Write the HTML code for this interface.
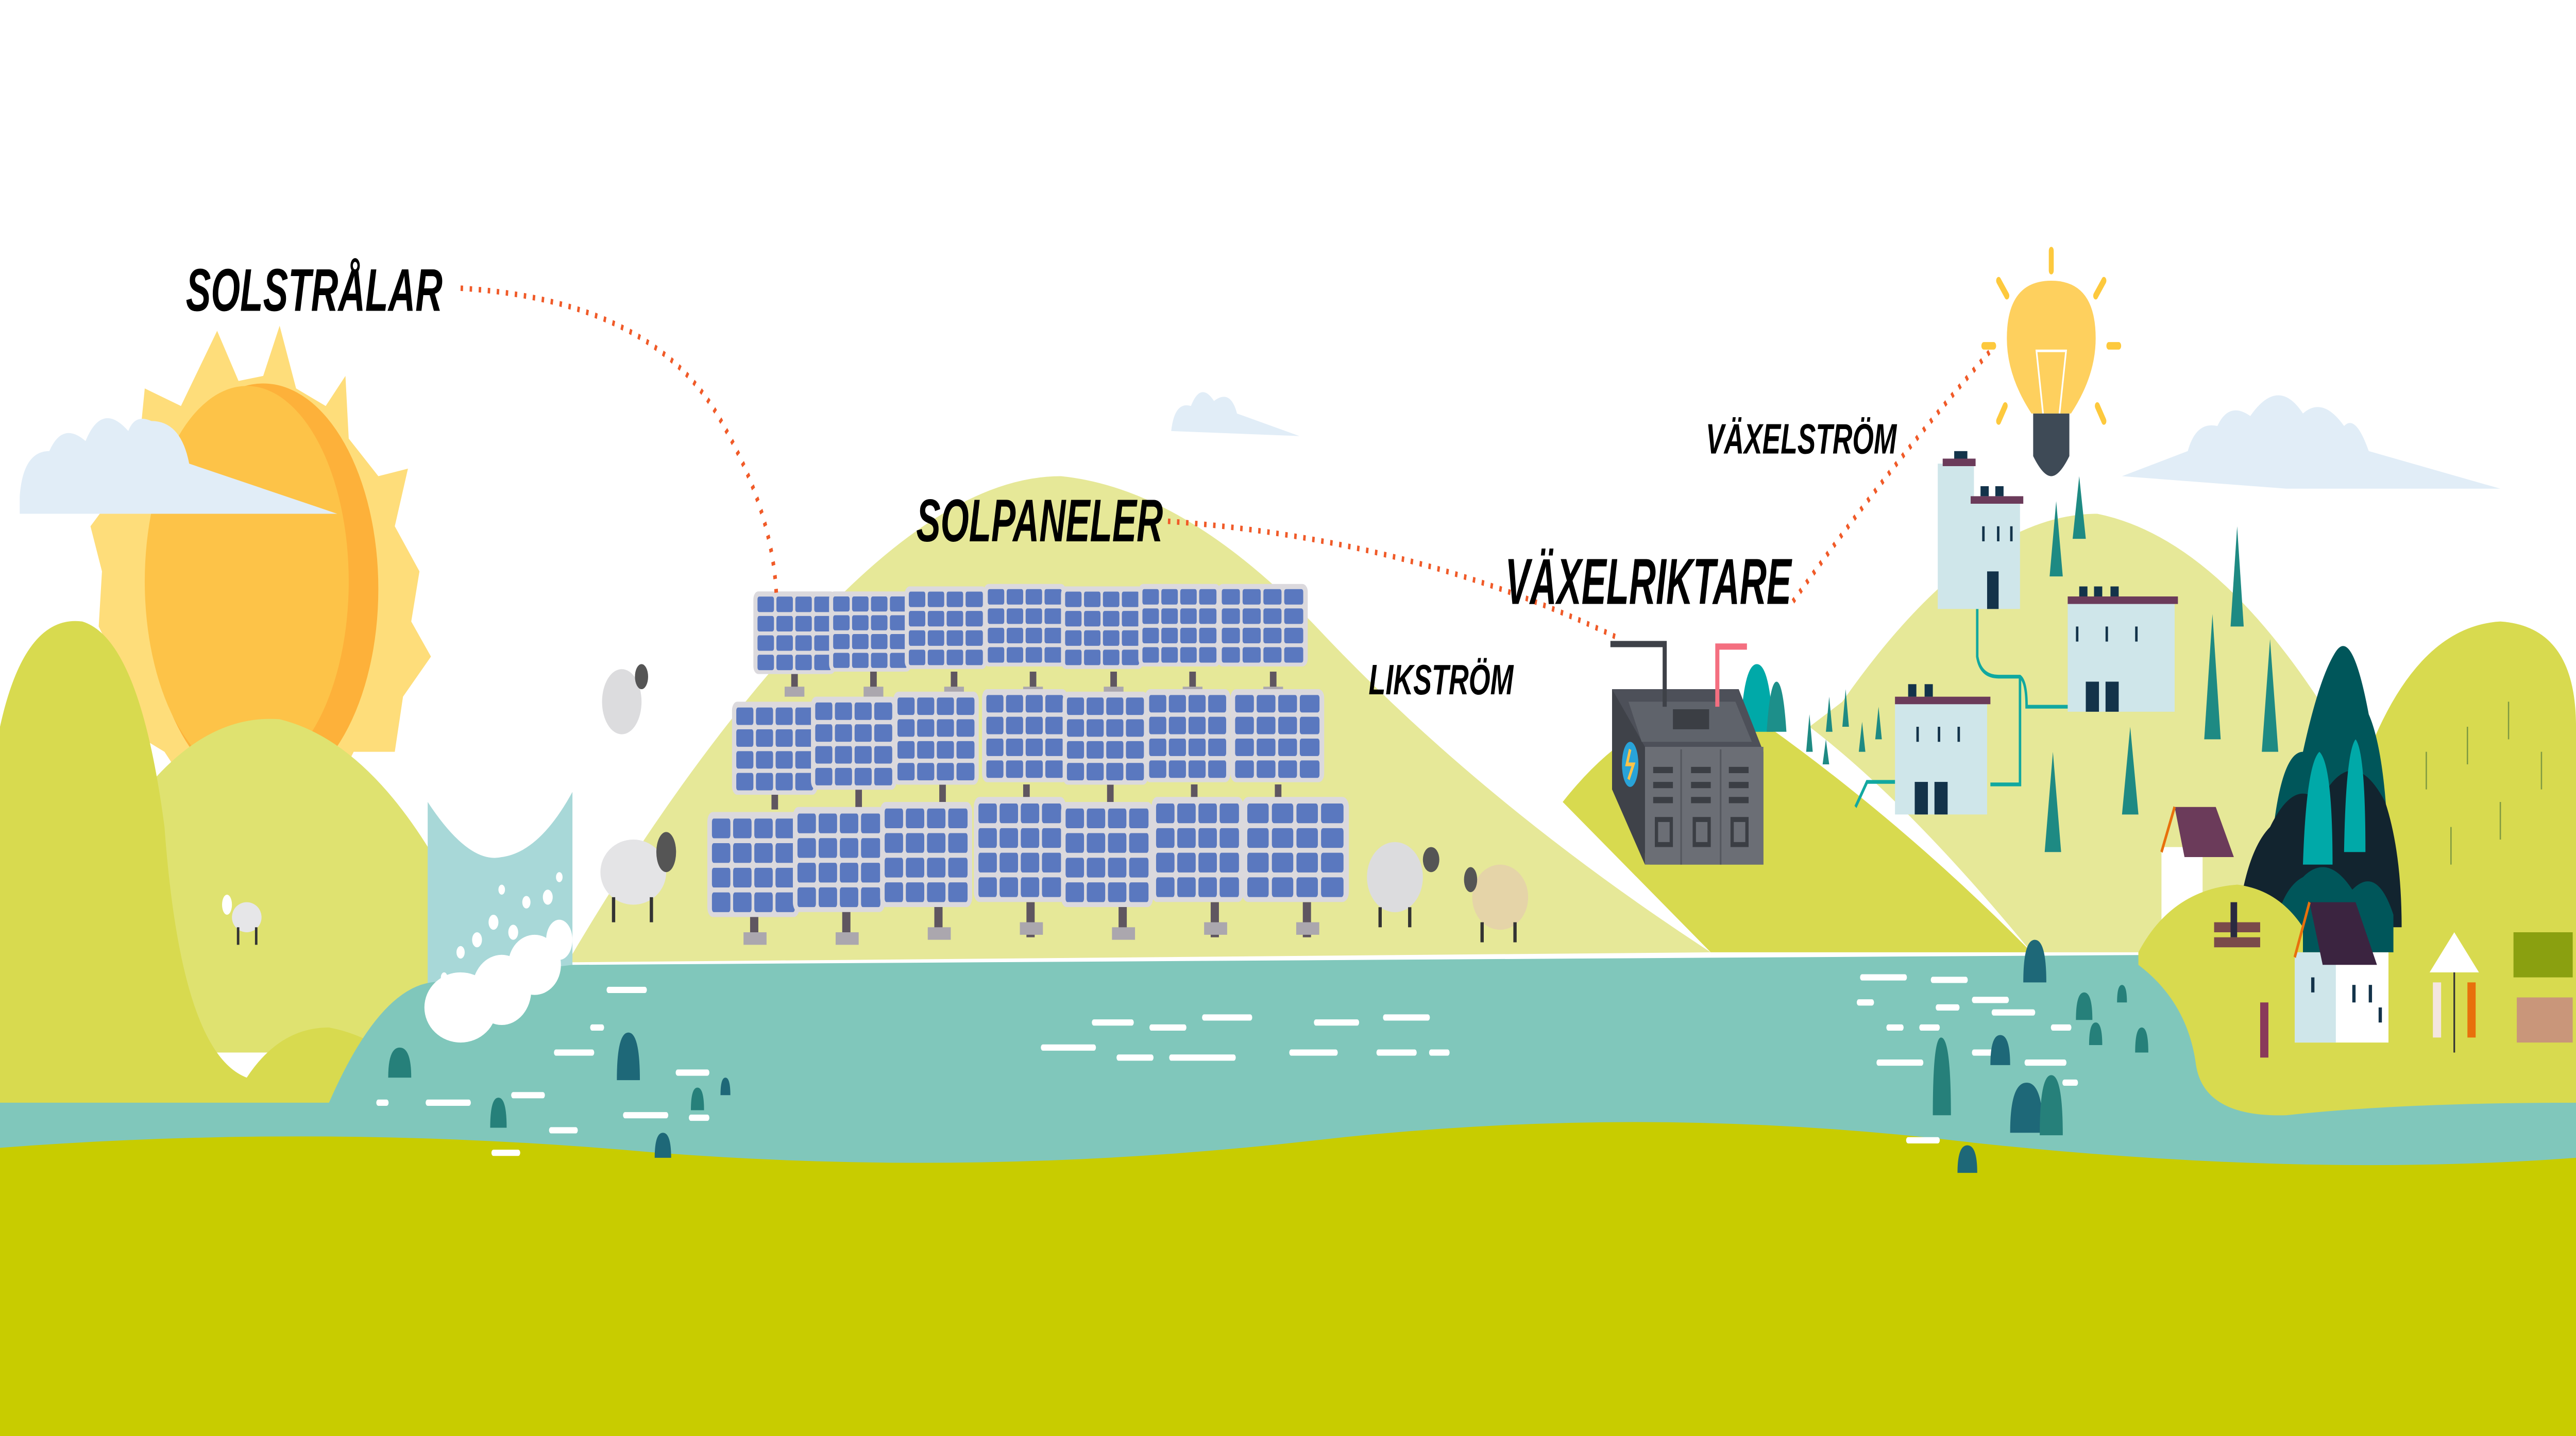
<!DOCTYPE html>
<html><head><meta charset="utf-8"><style>
html,body{margin:0;padding:0;background:#fff;width:100%;height:100%;overflow:hidden;}
svg{display:block;position:fixed;left:0;top:0;width:100vw;height:100vh;}
.t{font-family:"Liberation Sans",sans-serif;font-weight:bold;font-style:italic;fill:#000;}
</style></head><body>
<svg viewBox="0 0 1566 573" preserveAspectRatio="none" xmlns="http://www.w3.org/2000/svg">
<defs>
<g id="pn">
<rect x="0" y="0" width="50" height="32" rx="3" fill="#dbd9dd"/>
<g fill="#5a78bf">
<rect x="2.5" y="2" width="10" height="6" rx="1"/><rect x="14" y="2" width="10" height="6" rx="1"/><rect x="25.5" y="2" width="10" height="6" rx="1"/><rect x="37" y="2" width="10.5" height="6" rx="1"/>
<rect x="2.5" y="9.5" width="10" height="6" rx="1"/><rect x="14" y="9.5" width="10" height="6" rx="1"/><rect x="25.5" y="9.5" width="10" height="6" rx="1"/><rect x="37" y="9.5" width="10.5" height="6" rx="1"/>
<rect x="2.5" y="17" width="10" height="6" rx="1"/><rect x="14" y="17" width="10" height="6" rx="1"/><rect x="25.5" y="17" width="10" height="6" rx="1"/><rect x="37" y="17" width="10.5" height="6" rx="1"/>
<rect x="2.5" y="24.5" width="10" height="6" rx="1"/><rect x="14" y="24.5" width="10" height="6" rx="1"/><rect x="25.5" y="24.5" width="10" height="6" rx="1"/><rect x="37" y="24.5" width="10.5" height="6" rx="1"/>
</g></g>
</defs>
<rect width="1566" height="573" fill="#fff"/>
<path d="M712 172 Q714 160 724 162 Q730 152 738 160 Q748 155 752 165 L790 174 Z" fill="#e1edf7"/>
<path d="M1290 190 L1330 180 Q1335 168 1348 170 Q1355 160 1368 166 Q1385 150 1400 165 Q1412 158 1425 170 Q1432 165 1440 180 L1520 195 L1390 195 Z" fill="#e1edf7"/>
<path d="M132 132 L145 152 L160 150 L170 130 L180 155 L198 162 L210 150 L212 175 L230 190 L248 187 L240 210 L255 228 L250 248 L262 262 L245 278 L240 300 L215 300 L200 320 L120 320 L100 300 L75 290 L75 270 L60 250 L62 228 L55 210 L72 195 L85 175 L88 155 L110 162 Z" fill="#fedd7a"/>
<ellipse cx="160" cy="235" rx="70" ry="82" fill="#fdb13a"/>
<ellipse cx="150" cy="232" rx="62" ry="78" fill="#fdc348"/>
<path d="M12 198 Q14 180 30 180 Q38 168 52 176 Q62 160 78 172 Q82 165 92 168 Q110 168 115 185 L205 205 L12 205 Z" fill="#e1edf7"/>
<path d="M345 384 Q420 300 500 245 Q580 190 645 190 Q720 195 800 250 Q900 320 1040 380 Z" fill="#e6e898"/>
<path d="M1120 280 Q1200 205 1275 205 Q1350 215 1420 290 Q1450 330 1460 380 L1235 380 Q1160 320 1100 290 Z" fill="#e6e898"/>
<path d="M950 320 Q1010 270 1075 290 Q1160 330 1235 380 L1040 380 Z" fill="#d8da4f"/>
<path d="M95 310 Q130 285 170 287 Q220 295 262 340 L262 420 L95 420 Z" fill="#dfe270"/>
<path d="M0 290 Q15 245 50 248 Q85 255 100 330 Q110 420 150 430 Q170 410 200 410 Q240 415 262 440 L230 455 L0 455 Z" fill="#d8da4f"/>
<path d="M1440 300 Q1470 250 1520 248 Q1566 250 1566 290 L1566 380 L1410 380 Z" fill="#d8da4f"/>
<path d="M260 320 Q285 345 305 342 Q328 340 348 316 L348 392 L260 420 Z" fill="#a8d8d8"/>
<path d="M200 440 Q230 395 262 392 L348 385 L1566 380 L1566 470 L0 470 L0 440 Z" fill="#80c7bb"/>
<path d="M1300 380 Q1320 355 1360 353 Q1400 355 1440 400 L1566 400 L1566 440 Q1460 440 1390 445 Q1340 446 1335 425 Q1330 400 1300 385 Z" fill="#d8da4f"/>
<path d="M1440 300 L1566 300 L1566 440 L1440 440 Z" fill="#d8da4f"/>
<g stroke="#7f9a40" stroke-width="0.8"><line x1="1475" y1="300" x2="1475" y2="315"/><line x1="1500" y1="290" x2="1500" y2="305"/><line x1="1525" y1="280" x2="1525" y2="295"/><line x1="1545" y1="300" x2="1545" y2="315"/><line x1="1490" y1="330" x2="1490" y2="345"/><line x1="1520" y1="320" x2="1520" y2="335"/></g>
<g fill="#fff">
<ellipse cx="280" cy="402" rx="22" ry="14"/><ellipse cx="305" cy="395" rx="18" ry="14"/><ellipse cx="325" cy="385" rx="16" ry="12"/><ellipse cx="340" cy="375" rx="8" ry="8"/>
<circle cx="290" cy="375" r="3"/><circle cx="300" cy="368" r="3"/><circle cx="312" cy="372" r="3"/><circle cx="320" cy="360" r="2.5"/><circle cx="333" cy="358" r="3"/><circle cx="280" cy="380" r="2.5"/><circle cx="340" cy="350" r="2"/><circle cx="305" cy="355" r="2"/><circle cx="270" cy="390" r="2"/>
</g>
<path d="M0 458 Q200 448 400 460 Q600 470 800 455 Q1000 440 1200 456 Q1400 470 1566 462 L1566 573 L0 573 Z" fill="#c8cc00"/>
<g stroke="#fff" stroke-width="2.5" stroke-linecap="round">
<line x1="370" y1="395" x2="392" y2="395"/><line x1="360" y1="410" x2="366" y2="410"/><line x1="338" y1="420" x2="360" y2="420"/><line x1="260" y1="440" x2="285" y2="440"/><line x1="312" y1="437" x2="330" y2="437"/><line x1="412" y1="428" x2="430" y2="428"/><line x1="420" y1="446" x2="430" y2="446"/><line x1="380" y1="445" x2="405" y2="445"/><line x1="335" y1="451" x2="350" y2="451"/><line x1="300" y1="460" x2="315" y2="460"/><line x1="230" y1="440" x2="235" y2="440"/>
<line x1="665" y1="408" x2="688" y2="408"/><line x1="700" y1="410" x2="720" y2="410"/><line x1="732" y1="406" x2="760" y2="406"/><line x1="634" y1="418" x2="665" y2="418"/><line x1="680" y1="422" x2="700" y2="422"/><line x1="712" y1="422" x2="750" y2="422"/>
<line x1="800" y1="408" x2="825" y2="408"/><line x1="842" y1="406" x2="868" y2="406"/><line x1="785" y1="420" x2="812" y2="420"/><line x1="838" y1="420" x2="860" y2="420"/><line x1="870" y1="420" x2="880" y2="420"/>
<line x1="1132" y1="390" x2="1158" y2="390"/><line x1="1175" y1="391" x2="1195" y2="391"/><line x1="1130" y1="400" x2="1138" y2="400"/><line x1="1178" y1="402" x2="1190" y2="402"/><line x1="1200" y1="399" x2="1220" y2="399"/><line x1="1148" y1="410" x2="1156" y2="410"/><line x1="1168" y1="410" x2="1178" y2="410"/><line x1="1212" y1="404" x2="1236" y2="404"/><line x1="1142" y1="424" x2="1168" y2="424"/><line x1="1200" y1="420" x2="1212" y2="420"/><line x1="1232" y1="424" x2="1255" y2="424"/><line x1="1248" y1="410" x2="1258" y2="410"/><line x1="1255" y1="432" x2="1262" y2="432"/><line x1="1225" y1="440" x2="1232" y2="440"/><line x1="1245" y1="445" x2="1252" y2="445"/><line x1="1160" y1="455" x2="1178" y2="455"/>
</g>
<g fill="#26807a">
<path d="M236 430 Q236 418 243 418 Q250 418 250 430 Z"/><path d="M375 431 Q375 412 382 412 Q389 412 389 431 Z" fill="#1e6878"/><path d="M298 450 Q298 438 303 438 Q308 438 308 450 Z"/><path d="M398 462 Q398 452 403 452 Q408 452 408 462 Z" fill="#1e6878"/><path d="M420 443 Q420 434 424 434 Q428 434 428 443 Z"/><path d="M438 437 Q438 430 441 430 Q444 430 444 437 Z" fill="#1e6878"/>
<path d="M1230 392 Q1230 375 1237 375 Q1244 375 1244 392 Z" fill="#1e6878"/><path d="M1262 407 Q1262 396 1267 396 Q1272 396 1272 407 Z"/><path d="M1175 445 Q1175 414 1180 414 Q1186 414 1186 445 Z"/><path d="M1210 425 Q1210 413 1216 413 Q1222 413 1222 425 Z" fill="#1e6878"/><path d="M1222 452 Q1222 432 1232 432 Q1242 432 1242 452 Z" fill="#1e6878"/><path d="M1240 453 Q1240 429 1247 429 Q1254 429 1254 453 Z"/><path d="M1270 417 Q1270 408 1274 408 Q1278 408 1278 417 Z"/><path d="M1298 420 Q1298 410 1302 410 Q1306 410 1306 420 Z"/><path d="M1190 468 Q1190 457 1196 457 Q1202 457 1202 468 Z" fill="#1e6878"/><path d="M1287 400 Q1287 393 1290 393 Q1293 393 1293 400 Z"/>
</g>
<g fill="#5f5660">
<rect x="481" y="268" width="4" height="8"/><rect x="529" y="268" width="4" height="8"/><rect x="578" y="268" width="4" height="8"/><rect x="626" y="268" width="4" height="8"/><rect x="675" y="268" width="4" height="8"/><rect x="723" y="268" width="4" height="8"/><rect x="772" y="268" width="4" height="8"/>
<rect x="469" y="313" width="4" height="10"/><rect x="520" y="313" width="4" height="10"/><rect x="571" y="313" width="4" height="10"/><rect x="622" y="313" width="4" height="10"/><rect x="673" y="313" width="4" height="10"/><rect x="724" y="313" width="4" height="10"/><rect x="775" y="313" width="4" height="10"/>
<rect x="456" y="360" width="5" height="14"/><rect x="512" y="360" width="5" height="14"/><rect x="568" y="360" width="5" height="14"/><rect x="624" y="360" width="5" height="14"/><rect x="680" y="360" width="5" height="14"/><rect x="736" y="360" width="5" height="14"/><rect x="792" y="360" width="5" height="14"/>
</g>
<g fill="#aba7ae">
<rect x="477" y="274" width="12" height="4"/><rect x="525" y="274" width="12" height="4"/><rect x="574" y="274" width="12" height="4"/><rect x="622" y="274" width="12" height="4"/><rect x="671" y="274" width="12" height="4"/><rect x="719" y="274" width="12" height="4"/><rect x="768" y="274" width="12" height="4"/>
<rect x="452" y="372" width="14" height="5"/><rect x="508" y="372" width="14" height="5"/><rect x="564" y="370" width="14" height="5"/><rect x="620" y="368" width="14" height="5"/><rect x="676" y="370" width="14" height="5"/><rect x="732" y="368" width="14" height="5"/><rect x="788" y="368" width="14" height="5"/>
</g>
<use href="#pn" transform="translate(458 236) scale(1 1.03)"/><use href="#pn" transform="translate(504 236)"/><use href="#pn" transform="translate(550 234) scale(1 1.03)"/><use href="#pn" transform="translate(598 233) scale(1 1.03)"/><use href="#pn" transform="translate(645 234) scale(1 1.03)"/><use href="#pn" transform="translate(692 233) scale(1 1.03)"/><use href="#pn" transform="translate(740 233) scale(1.1 1.03)"/>
<use href="#pn" transform="translate(445 280) scale(1.04 1.16)"/><use href="#pn" transform="translate(493 278) scale(1.04 1.16)"/><use href="#pn" transform="translate(543 276) scale(1.04 1.16)"/><use href="#pn" transform="translate(597 275) scale(1.04 1.16)"/><use href="#pn" transform="translate(646 276) scale(1.04 1.16)"/><use href="#pn" transform="translate(696 275) scale(1.04 1.16)"/><use href="#pn" transform="translate(748 275) scale(1.14 1.16)"/>
<use href="#pn" transform="translate(430 324) scale(1.12 1.31)"/><use href="#pn" transform="translate(482 322) scale(1.12 1.31)"/><use href="#pn" transform="translate(535 320) scale(1.12 1.31)"/><use href="#pn" transform="translate(592 318) scale(1.12 1.31)"/><use href="#pn" transform="translate(645 320) scale(1.12 1.31)"/><use href="#pn" transform="translate(700 318) scale(1.12 1.31)"/><use href="#pn" transform="translate(755 318) scale(1.3 1.31)"/>
<ellipse cx="150" cy="366" rx="9" ry="6" fill="#e6e6e8"/><ellipse cx="138" cy="361" rx="3" ry="4" fill="#fff"/><rect x="144" y="370" width="1.5" height="7" fill="#333"/><rect x="155" y="370" width="1.5" height="7" fill="#333"/>
<ellipse cx="378" cy="280" rx="12" ry="13" fill="#dcdcde"/><ellipse cx="390" cy="270" rx="4" ry="5" fill="#555"/>
<ellipse cx="385" cy="348" rx="20" ry="13" fill="#e4e4e6"/><ellipse cx="405" cy="340" rx="6" ry="8" fill="#555"/><rect x="372" y="358" width="2" height="10" fill="#333"/><rect x="395" y="358" width="2" height="10" fill="#333"/>
<ellipse cx="848" cy="350" rx="17" ry="14" fill="#dcdcde"/><ellipse cx="870" cy="343" rx="5" ry="5" fill="#555"/><rect x="838" y="362" width="2" height="8" fill="#333"/><rect x="856" y="362" width="2" height="8" fill="#333"/>
<ellipse cx="912" cy="358" rx="17" ry="13" fill="#e5d4a8"/><ellipse cx="894" cy="351" rx="4" ry="5" fill="#555"/><rect x="900" y="368" width="2" height="8" fill="#333"/><rect x="920" y="368" width="2" height="8" fill="#333"/>
<path d="M1058 292 Q1060 265 1068 265 Q1076 265 1078 292 Z" fill="#00a9a8"/><path d="M1074 292 Q1076 272 1080 272 Q1084 272 1086 292 Z" fill="#1d8f8a"/>
<path d="M980 275 L1057 275 L1072 300 L1072 345 L1003 345 L980 310 Z" fill="#4d5059"/>
<path d="M1000 298 L1072 298 L1072 345 L1000 345 Z" fill="#6b6e75"/>
<path d="M980 275 L1000 298 L1000 345 L980 315 Z" fill="#3f4249"/>
<path d="M990 280 L1055 280 L1065 296 L998 296 Z" fill="#5f636b"/>
<rect x="1017" y="283" width="22" height="8" fill="#3b3e44"/>
<line x1="1022" y1="299" x2="1022" y2="345" stroke="#55585f" stroke-width="1"/><line x1="1046" y1="299" x2="1046" y2="345" stroke="#55585f" stroke-width="1"/>
<g fill="#3b3e44"><rect x="1005" y="306" width="12" height="2.5"/><rect x="1005" y="312" width="12" height="2.5"/><rect x="1005" y="318" width="12" height="2.5"/><rect x="1028" y="306" width="12" height="2.5"/><rect x="1028" y="312" width="12" height="2.5"/><rect x="1028" y="318" width="12" height="2.5"/><rect x="1051" y="306" width="12" height="2.5"/><rect x="1051" y="312" width="12" height="2.5"/><rect x="1051" y="318" width="12" height="2.5"/></g>
<g fill="none" stroke="#3b3e44" stroke-width="2"><rect x="1007" y="327" width="9" height="10"/><rect x="1030" y="327" width="9" height="10"/><rect x="1053" y="327" width="9" height="10"/></g>
<ellipse cx="991" cy="305" rx="5" ry="9" fill="#29a3d8"/><path d="M991 299 L989 305 L993 305 L990 311" stroke="#fdc348" stroke-width="1.5" fill="none"/>
<path d="M979 257 L1012 257 L1012 282" stroke="#3e4148" stroke-width="2.5" fill="none"/>
<path d="M1062 258 L1044 258 L1044 282" stroke="#f46f80" stroke-width="2.5" fill="none"/>
<rect x="1178" y="185" width="22" height="58" fill="#cfe6ea"/><rect x="1188" y="180" width="8" height="5" fill="#13334a"/><rect x="1181" y="183" width="20" height="3" fill="#6b3b5a"/>
<rect x="1198" y="200" width="30" height="43" fill="#cfe6ea"/><rect x="1198" y="198" width="32" height="3" fill="#6b3b5a"/><rect x="1204" y="194" width="5" height="4" fill="#13334a"/><rect x="1213" y="194" width="5" height="4" fill="#13334a"/>
<rect x="1208" y="228" width="7" height="15" fill="#13334a"/>
<rect x="1257" y="240" width="65" height="44" fill="#cfe6ea"/><rect x="1257" y="238" width="67" height="3" fill="#6b3b5a"/><rect x="1264" y="234" width="5" height="4" fill="#13334a"/><rect x="1273" y="234" width="5" height="4" fill="#13334a"/><rect x="1283" y="234" width="5" height="4" fill="#13334a"/>
<rect x="1268" y="272" width="8" height="12" fill="#13334a"/><rect x="1280" y="272" width="8" height="12" fill="#13334a"/>
<rect x="1152" y="280" width="56" height="45" fill="#cfe6ea"/><rect x="1152" y="278" width="58" height="3" fill="#6b3b5a"/><rect x="1160" y="273" width="5" height="5" fill="#13334a"/><rect x="1170" y="273" width="5" height="5" fill="#13334a"/>
<rect x="1164" y="312" width="8" height="13" fill="#13334a"/><rect x="1176" y="312" width="8" height="13" fill="#13334a"/>
<g fill="#13334a"><rect x="1262" y="250" width="1.5" height="6"/><rect x="1280" y="250" width="1.5" height="6"/><rect x="1298" y="250" width="1.5" height="6"/><rect x="1165" y="290" width="1.5" height="6"/><rect x="1178" y="290" width="1.5" height="6"/><rect x="1190" y="290" width="1.5" height="6"/><rect x="1205" y="210" width="1.5" height="6"/><rect x="1214" y="210" width="1.5" height="6"/><rect x="1222" y="210" width="1.5" height="6"/></g>
<path d="M1202 243 L1202 262 Q1204 270 1215 270 L1228 270 Q1232 272 1232 282 L1257 282 M1228 270 L1228 313 L1210 313 M1152 312 L1135 312 L1128 322" stroke="#11a8a0" stroke-width="1.5" fill="none"/>
<g fill="#1e8a83">
<path d="M1246 230 L1250 200 L1254 230 Z"/><path d="M1260 215 L1264 190 L1268 215 Z"/><path d="M1356 250 L1360 210 L1364 250 Z"/><path d="M1340 295 L1345 245 L1350 295 Z"/><path d="M1375 300 L1380 255 L1385 300 Z"/><path d="M1243 340 L1248 300 L1253 340 Z"/><path d="M1290 325 L1295 290 L1300 325 Z"/>
<path d="M1098 300 L1100 285 L1102 300 Z"/><path d="M1110 292 L1112 278 L1114 292 Z"/><path d="M1120 290 L1122 275 L1124 290 Z"/><path d="M1108 305 L1110 295 L1112 305 Z"/><path d="M1130 300 L1132 288 L1134 300 Z"/><path d="M1140 295 L1142 282 L1144 295 Z"/>
</g>
<path d="M1380 345 Q1385 300 1400 300 Q1410 270 1420 260 Q1430 250 1440 285 Q1450 300 1452 340 Z" fill="#00565a"/>
<path d="M1360 370 Q1365 340 1380 330 Q1395 310 1410 320 Q1430 295 1450 320 Q1460 340 1460 370 Z" fill="#12242f"/>
<path d="M1400 345 Q1402 305 1410 300 Q1418 305 1418 345 Z" fill="#00a9a8"/><path d="M1425 340 Q1426 300 1432 295 Q1438 300 1438 340 Z" fill="#00a9a8"/>
<path d="M1380 380 Q1385 355 1400 350 Q1415 340 1430 355 Q1445 345 1455 365 L1455 380 Z" fill="#00565a"/>
<rect x="1314" y="338" width="25" height="32" fill="#fff"/><path d="M1322 322 L1347 322 L1358 342 L1328 342 Z" fill="#6b3b5a"/><path d="M1314 340 L1322 322" stroke="#e8700c" stroke-width="1.5"/>
<path d="M1300 380 Q1320 355 1360 353 Q1385 355 1400 370 L1400 420 L1340 425 Q1330 400 1300 385 Z" fill="#d8da4f"/>
<rect x="1395" y="380" width="57" height="36" fill="#fff"/><rect x="1395" y="380" width="25" height="36" fill="#cfe6ea"/><path d="M1404 360 L1432 360 L1445 385 L1412 385 Z" fill="#3b2440"/><path d="M1395 382 L1404 360" stroke="#e8700c" stroke-width="1.5"/>
<g fill="#13334a"><rect x="1405" y="390" width="2" height="6"/><rect x="1430" y="393" width="2" height="7"/><rect x="1440" y="393" width="2" height="7"/><rect x="1446" y="402" width="2" height="6"/></g>
<rect x="1346" y="368" width="28" height="4" fill="#7a4a4a"/><rect x="1346" y="374" width="28" height="4" fill="#7a4a4a"/><rect x="1356" y="360" width="4" height="14" fill="#2a2a40"/>
<rect x="1374" y="400" width="5" height="22" fill="#8a3a5a"/><rect x="1479" y="392" width="5" height="22" fill="#f4e6e0"/><rect x="1500" y="392" width="5" height="22" fill="#e8700c"/>
<path d="M1477 388 L1492 372 L1507 388 Z" fill="#fff"/><line x1="1492" y1="388" x2="1492" y2="420" stroke="#333" stroke-width="1"/>
<rect x="1528" y="372" width="36" height="18" fill="#8aa010"/><rect x="1530" y="398" width="34" height="18" fill="#c9967a"/>
<g fill="none" stroke="#f05a28" stroke-width="2.2" stroke-dasharray="1.5 4">
<path d="M280 115 Q400 120 440 170 Q470 205 472 238"/>
<path d="M710 208 Q860 215 985 255"/>
<path d="M1090 240 Q1150 185 1210 140"/>
</g>
<g stroke="#fdc93d" stroke-width="3" stroke-linecap="round">
<line x1="1247" y1="100" x2="1247" y2="108"/><line x1="1215" y1="112" x2="1220" y2="118"/><line x1="1279" y1="112" x2="1274" y2="118"/><line x1="1206" y1="138" x2="1212" y2="138"/><line x1="1282" y1="138" x2="1288" y2="138"/><line x1="1219" y1="162" x2="1215" y2="168"/><line x1="1275" y1="162" x2="1279" y2="168"/>
</g>
<path d="M1235 165 Q1220 150 1220 135 Q1220 112 1247 112 Q1274 112 1274 135 Q1274 150 1259 165 Z" fill="#fed05e"/>
<path d="M1242 165 L1238 140 L1256 140 L1252 165" stroke="#fff" stroke-width="1" fill="none"/>
<path d="M1236 165 L1258 165 L1258 182 Q1252 190 1247 190 Q1242 190 1236 182 Z" fill="#3e4a56"/>
<text class="t" x="113" y="124" font-size="24" textLength="156" lengthAdjust="spacingAndGlyphs">SOLSTRÅLAR</text>
<text class="t" x="557" y="216" font-size="24" textLength="150" lengthAdjust="spacingAndGlyphs">SOLPANELER</text>
<text class="t" x="915" y="241" font-size="26" textLength="174" lengthAdjust="spacingAndGlyphs">VÄXELRIKTARE</text>
<text class="t" x="832" y="277" font-size="17" font-weight="normal" textLength="88" lengthAdjust="spacingAndGlyphs">LIKSTRÖM</text>
<text class="t" x="1037" y="181" font-size="17" font-weight="normal" textLength="116" lengthAdjust="spacingAndGlyphs">VÄXELSTRÖM</text>
</svg>
</body></html>
